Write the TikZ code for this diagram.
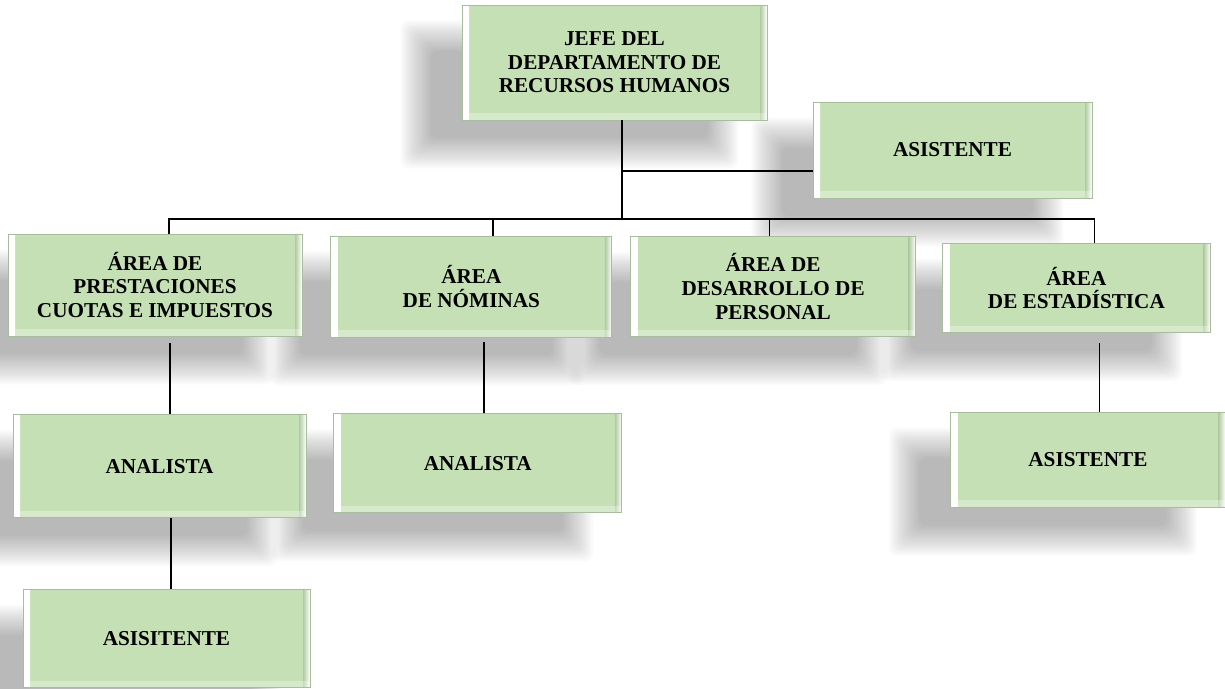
\documentclass[tikz,border=0pt]{standalone}
\usepackage{fontspec}
\setmainfont{Liberation Serif}
\usetikzlibrary{positioning, backgrounds}
\definecolor{boxgreen}{RGB}{197,224,180}
\definecolor{boxedge}{RGB}{168,188,158}

\begin{document}
\begin{tikzpicture}[x=1pt, y=-1pt,
      box/.style={draw=boxedge, fill=boxgreen, line width=.8pt, align=center,
                  inner sep=0pt, font=\fontsize{21.2}{23.6}\selectfont\bfseries,
                  path picture={
                     \shade[left color=white, right color=boxgreen]
                        (path picture bounding box.south west) rectangle
                        ([xshift=7pt]path picture bounding box.north west);
                     \shade[left color=boxgreen!90!black, right color=white]
                        ([xshift=-7pt]path picture bounding box.south east) rectangle
                        (path picture bounding box.north east);
                     \fill[white, opacity=.3] (path picture bounding box.south west)
                        rectangle ([yshift=7pt]path picture bounding box.south east);
                  }},
      dims/.style 2 args={minimum width=#1pt, minimum height=#2pt},
      link/.style={draw=black, line width=1.4pt},
   ]
   \useasboundingbox (0,0) rectangle (1225,688);

   % top
   \node[box, dims={305}{115}] (jefe) at (614.5,62.5)
         {JEFE DEL\\DEPARTAMENTO DE\\RECURSOS HUMANOS};
   \node[box, dims={279}{96}] (asis) at (952.5,150) {ASISTENTE};

   % areas
   \node[box, dims={294}{102}] (prest) at (155,285)
         {ÁREA DE\\PRESTACIONES\\CUOTAS E IMPUESTOS};
   \node[box, dims={281}{101}, right=28pt of prest, yshift=-1.5pt] (nomi)
         {ÁREA\\DE NÓMINAS};
   \node[box, dims={285}{100}, right=18pt of nomi] (desa)
         {ÁREA DE\\DESARROLLO DE\\PERSONAL};
   \node[box, dims={268}{89}, right=26pt of desa, yshift=-1.5pt] (esta)
         {ÁREA\\DE ESTADÍSTICA};

   % staff
   \node[box, dims={293}{103}, below=78pt of prest, xshift=4.5pt] (ana1) {ANALISTA};
   \node[box, dims={288}{99}, below=76pt of nomi, xshift=6.5pt] (ana2) {ANALISTA};
   \node[box, dims={275}{95}, below=79pt of esta, xshift=11.5pt] (asisest) {ASISTENTE};
   \node[box, dims={287}{98}, below=71pt of ana1, xshift=7pt] (asisprest) {ASISITENTE};

   \begin{scope}[on background layer]
      \foreach \n in {jefe, asis, prest, nomi, desa, esta, ana1, ana2, asisest, asisprest}
         \foreach \r in {-14,-12,...,16}
            \fill[black, opacity=.02, rounded corners=8pt]
               ([shift={(-45-\r,32+\r)}]\n.south west) rectangle
               ([shift={(-45+\r,32-\r)}]\n.north east);
   \end{scope}

   \coordinate (trunk) at (622,219);
   \draw[link] (jefe.south -| trunk) -- (trunk);
   \draw[link] ([yshift=-21pt]asis.west) -| (trunk);
   \foreach \n/\s in {prest/14, nomi/21.5, desa/-3.5, esta/18}
      \draw[link] ([xshift=\s pt]\n.north) |- (trunk);

   \foreach \c/\p/\s/\g in {ana1/prest/10.5/7, ana2/nomi/6/5,
                            asisest/esta/11.5/10, asisprest/ana1/4.5/0} {
      \path ([xshift=\s pt]\c.north) coordinate (top);
      \draw[link, shorten >=\g pt] (top) -- (top |- \p.south);
   }
\end{tikzpicture}
\end{document}
